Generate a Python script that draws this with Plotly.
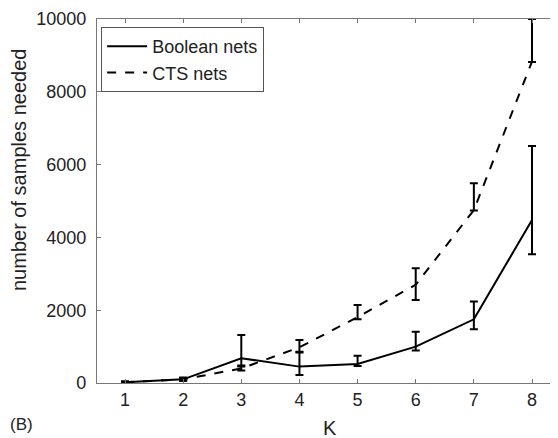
import plotly.graph_objects as go

K = [1, 2, 3, 4, 5, 6, 7, 8]
bool_mean = [20, 100, 680, 450, 520, 1000, 1750, 4480]
bool_plus = [20, 50, 640, 390, 230, 410, 490, 2030]
bool_minus = [15, 40, 230, 230, 50, 110, 270, 940]
cts_mean = [20, 100, 400, 980, 1810, 2700, 4750, 8830]
cts_plus = [20, 40, 80, 200, 330, 450, 740, 1170]
cts_minus = [15, 40, 60, 120, 60, 420, 10, 10]
y_ticks = [0, 2000, 4000, 6000, 8000, 10000]
y_ticklabels = ["0", "2000", "4000", "6000", "8000", "10000"]

FONT = "Liberation Sans, Arial, sans-serif"
TXT = "#222222"

fig = go.Figure()
fig.add_trace(go.Scatter(
    x=K, y=bool_mean, mode="lines", name="Boolean nets",
    line=dict(color="black", width=2),
    error_y=dict(type="data", symmetric=False, array=bool_plus, arrayminus=bool_minus,
                 color="black", thickness=2, width=4),
))
fig.add_trace(go.Scatter(
    x=K, y=cts_mean, mode="lines", name="CTS nets",
    line=dict(color="black", width=2, dash="dash"),
    error_y=dict(type="data", symmetric=False, array=cts_plus, arrayminus=cts_minus,
                 color="black", thickness=2, width=4),
))

axis_common = dict(
    showline=True, linecolor="#777777", linewidth=1.3, mirror="ticks",
    ticks="inside", ticklen=4, tickcolor="#777777", showgrid=False, zeroline=False,
    tickfont=dict(family=FONT, size=18, color=TXT), automargin=False,
)
fig.update_xaxes(range=[0.518, 8.43], tickvals=K, **axis_common)
fig.update_yaxes(range=[0, 10000], tickvals=y_ticks, ticktext=y_ticklabels,
                 ticklabelstandoff=6, **axis_common)

# page body has an 8px margin; the figure is sized/offset to compensate
fig.update_layout(
    width=550, height=430,
    margin=dict(l=89, r=1, t=11, b=55),
    paper_bgcolor="white", plot_bgcolor="white",
    showlegend=True,
    legend=dict(x=0.009, y=0.978, xanchor="left", yanchor="top",
                bordercolor="#555555", borderwidth=1, bgcolor="white",
                font=dict(family=FONT, size=18, color=TXT),
                tracegroupgap=0, itemwidth=40),
    annotations=[
        dict(text="(B)", x=-0.193, y=-0.115, xref="paper", yref="paper",
             xanchor="left", yanchor="middle", showarrow=False,
             font=dict(family=FONT, size=17, color=TXT)),
        dict(text="K", x=(330 - 97) / 460, y=(383 - 428) / 364, xref="paper", yref="paper",
             xanchor="center", yanchor="middle", showarrow=False,
             font=dict(family=FONT, size=20, color=TXT)),
        dict(text="number of samples needed", x=(19 - 97) / 460, y=(383 - 170) / 364,
             xref="paper", yref="paper", xanchor="center", yanchor="middle",
             textangle=-90, showarrow=False,
             font=dict(family=FONT, size=20, color=TXT)),
    ],
)

fig.write_html("out.html")
